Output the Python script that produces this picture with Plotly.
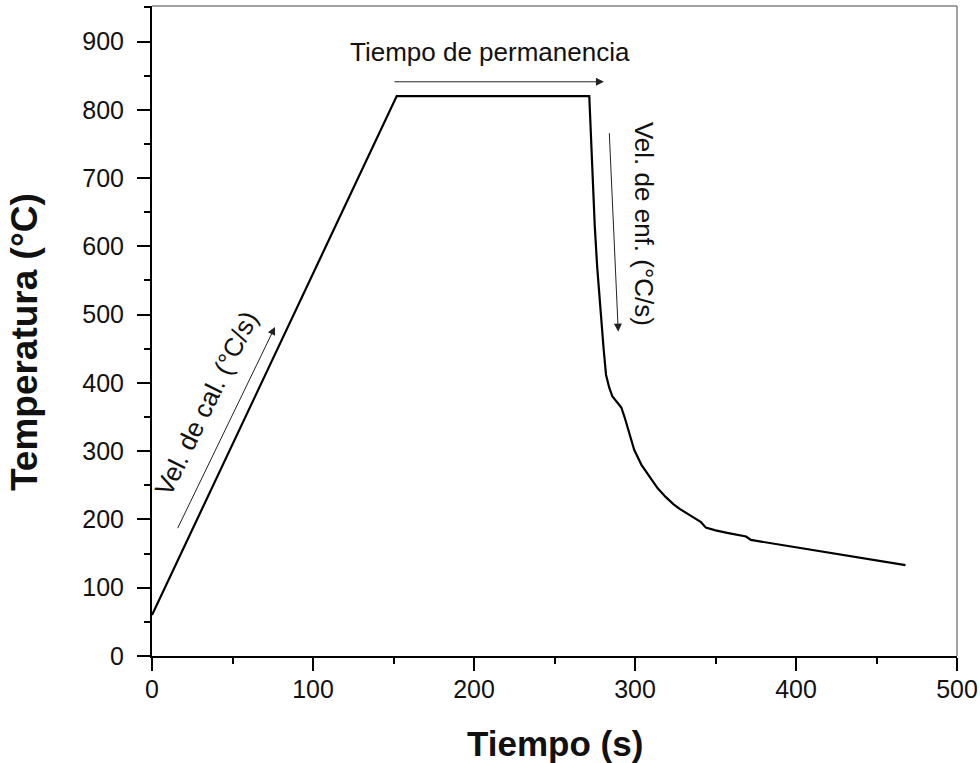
import plotly.graph_objects as go

# Data
tiempo = [0, 152, 271.6, 273, 275, 276.5, 278, 279.5, 280.5, 282, 284, 286, 289,
          291.5, 293.5, 296, 299.5, 304, 309, 314, 319, 324, 328, 333, 338, 341,
          344, 350, 358, 366, 369, 372, 380, 390, 400, 410, 420, 430, 440, 450,
          460, 468]
temperatura = [60, 820, 820, 730, 630, 570, 520, 480, 450, 412, 393, 380, 371,
               364, 350, 330, 302, 280, 262, 246, 233, 222, 215, 208, 201, 196,
               188, 184, 180, 177, 175, 170, 167, 163, 159, 155, 151, 148, 144,
               140, 136, 133]

x_ticks = [0, 100, 200, 300, 400, 500]
y_ticks = [0, 100, 200, 300, 400, 500, 600, 700, 800, 900]

FONT = "Arial, Liberation Sans, sans-serif"
INK = "#111111"

fig = go.Figure()
fig.add_trace(go.Scatter(x=tiempo, y=temperatura, mode="lines",
                         line=dict(color="black", width=2.2),
                         showlegend=False, hoverinfo="skip"))

axis_common = dict(
    showgrid=False, zeroline=False, showline=True, linecolor="black",
    linewidth=2, ticks="outside", ticklen=13, tickwidth=2, tickcolor="black",
    tickfont=dict(family=FONT, size=25, color=INK),
    minor=dict(ticks="outside", ticklen=6, tickwidth=2, tickcolor="black", dtick=50),
    automargin=False, ticklabeloverflow="allow",
)

fig.update_xaxes(range=[0, 500], tickvals=x_ticks, ticklabelstandoff=-3, **axis_common)
fig.update_yaxes(range=[0, 952], tickvals=y_ticks, ticklabelstandoff=8, **axis_common)

annotations = [
    # axis titles
    dict(text="<b>Tiempo (s)</b>", xref="paper", yref="paper", x=0.5, y=-0.134,
         xanchor="center", yanchor="middle", showarrow=False,
         font=dict(family=FONT, size=35, color=INK)),
    dict(text="<b>Temperatura (°C)</b>", xref="paper", yref="paper", x=-0.159, y=0.483,
         xanchor="center", yanchor="middle", showarrow=False, textangle=-90,
         font=dict(family=FONT, size=37, color=INK)),
    # labels
    dict(text="Tiempo de permanencia", x=210, y=885, xref="x", yref="y",
         showarrow=False, font=dict(family=FONT, size=26, color=INK)),
    dict(text="Vel. de enf. (°C/s)", x=305.5, y=633, xref="x", yref="y",
         showarrow=False, textangle=90, font=dict(family=FONT, size=26, color=INK)),
    dict(text="Vel. de cal. (°C/s)", x=34, y=370, xref="x", yref="y",
         showarrow=False, textangle=-64, font=dict(family=FONT, size=26, color=INK)),
    # arrows
    dict(text="", x=280.7, y=841, ax=149.7, ay=841, xref="x", yref="y",
         axref="x", ayref="y", showarrow=True, arrowhead=2, arrowsize=1.6,
         arrowwidth=1, arrowcolor="#222222"),
    dict(text="", x=289.6, y=475, ax=284.0, ay=768, xref="x", yref="y",
         axref="x", ayref="y", showarrow=True, arrowhead=2, arrowsize=1.6,
         arrowwidth=1, arrowcolor="#222222"),
    dict(text="", x=76.4, y=482, ax=15.5, ay=185, xref="x", yref="y",
         axref="x", ayref="y", showarrow=True, arrowhead=2, arrowsize=1.6,
         arrowwidth=1, arrowcolor="#222222"),
]

shapes = [
    dict(type="line", xref="paper", yref="paper", x0=0, y0=1, x1=1, y1=1,
         line=dict(color="#444444", width=1)),
    dict(type="line", xref="paper", yref="paper", x0=1, y0=0, x1=1, y1=1,
         line=dict(color="#444444", width=1)),
]

fig.update_layout(
    width=980, height=763,
    margin=dict(l=152, r=23, t=6, b=107),
    paper_bgcolor="white", plot_bgcolor="white",
    annotations=annotations, shapes=shapes,
)

fig.write_html("out.html")
